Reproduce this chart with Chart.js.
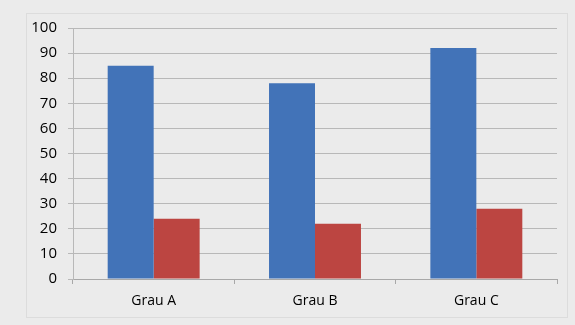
<!DOCTYPE html>
<html>
<head>
<meta charset="utf-8">
<script src="https://cdn.jsdelivr.net/npm/chart.js@4/dist/chart.umd.min.js"></script>
<style>
  html, body { margin: 0; padding: 0; background: #ebebeb; }
  #wrap { position: relative; width: 575px; height: 325px; }
  #frame { position: absolute; left: 26px; top: 13px; width: 540px; height: 303px; border: 1px solid #dcdcdc; }
  canvas { position: absolute; left: 0; top: 0; }
</style>
</head>
<body>
<div id="wrap">
  <div id="frame"></div>
  <canvas id="grafica" width="575" height="325"></canvas>
</div>
<script>
const categorias = ["Grau A", "Grau B", "Grau C"];
const serieAzul = [85, 78, 92];
const serieRoja = [24, 22, 28];
const ticksY = [0, 10, 20, 30, 40, 50, 60, 70, 80, 90, 100];

const grafica = new Chart("grafica", {
    type: "bar",
    data: {
        labels: categorias,
        datasets: [
            { label: "Serie 1", data: serieAzul, backgroundColor: "#4273b8", borderWidth: 0 },
            { label: "Serie 2", data: serieRoja, backgroundColor: "#bc4541", borderWidth: 0 }
        ]
    },
    options: {
        responsive: false,
        animation: false,
        layout: { padding: { left: 0, right: 18, top: 28, bottom: 0 } },
        datasets: { bar: { barPercentage: 1, categoryPercentage: 0.57 } },
        scales: {
            x: {
                grid: { display: true, drawOnChartArea: false, offset: true, tickLength: 5, color: "#a8a8a8" },
                border: { color: "#a8a8a8" },
                ticks: { color: "#000", font: { family: "Open Sans", size: 14 }, padding: 9 },
                afterFit: (scale) => { scale.height = 46; }
            },
            y: {
                min: 0, max: 100,
                afterBuildTicks: (scale) => { scale.ticks = ticksY.map(v => ({ value: v })); },
                grid: { color: "#b8b8b8", tickLength: 5 },
                border: { color: "#b8b8b8" },
                ticks: { color: "#000", font: { family: "Open Sans", size: 15 }, padding: 11 },
                afterFit: (scale) => { scale.width = 73; }
            }
        },
        plugins: { legend: { display: false }, tooltip: { enabled: false } }
    }
});
</script>
</body>
</html>
